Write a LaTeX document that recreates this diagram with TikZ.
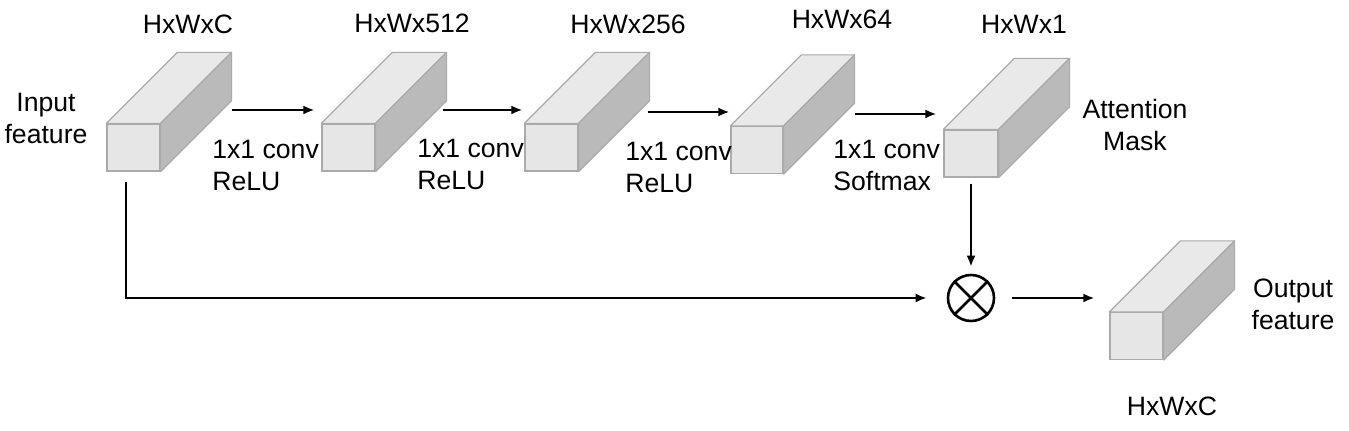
\documentclass[tikz,border=0pt]{standalone}
\usepackage{fontspec}
\setmainfont{Liberation Sans}
\usetikzlibrary{calc,arrows.meta}

\definecolor{frontgray}{RGB}{230,230,230}
\definecolor{topgray}{RGB}{233,233,233}
\definecolor{sidegray}{RGB}{186,186,186}
\definecolor{edgegray}{RGB}{170,170,170}

% top and side faces of a feature block, drawn from its front face
\newcommand{\boxdepth}[1]{%
  \filldraw[draw=edgegray, fill=topgray, line width=0.6pt, line join=round]
    (#1.north west) -- ++(71,71) -- ($(#1.north east)+(71,71)$) -- (#1.north east) -- cycle;
  \filldraw[draw=edgegray, fill=sidegray, line width=0.6pt, line join=round]
    (#1.north east) -- ++(71,71) -- ($(#1.south east)+(71,71)$) -- (#1.south east) -- cycle;
}

\begin{document}
\begin{tikzpicture}[x=0.5pt, y=0.5pt,
    every node/.style={font=\fontsize{13.3}{16}\selectfont},
    front/.style={rectangle, draw=edgegray, fill=frontgray, line width=0.6pt,
      inner sep=0pt, minimum width=26.5pt, minimum height=23.5pt},
    oplabel/.style={anchor=north west, align=left, inner sep=0pt},
    flow/.style={line width=1.2pt, -{Latex[length=5.5pt,width=4.5pt]}}]
  \useasboundingbox (0,0) rectangle (1349,431);

  % feature blocks
  \node[front] (b1) at (133.5,283.5) {};
  \node[front] (b2) at (348.5,283.5) {};
  \node[front] (b3) at (551.5,283.5) {};
  \node[front, minimum width=26pt] (b4) at (757,281) {};
  \node[front, minimum width=27pt] (b5) at (971,277.5) {};
  \node[front] (out) at (1136.5,95) {};
  \boxdepth{b1}
  \boxdepth{b2}
  \boxdepth{b3}
  \boxdepth{b4}
  \boxdepth{b5}
  \boxdepth{out}

  % sizes
  \node (s1) at (188,407) {HxWxC};
  \node (s2) at (412,408) {HxWx512};
  \node (s3) at (628,407) {HxWx256};
  \node (s4) at (842,412) {HxWx64};
  \node (s5) at (1024,407) {HxWx1};
  \node (s6) at (1172,25) {HxWxC};

  \node[align=center] (in) at (46,313) {Input\\feature};
  \node[align=center] (att) at (1135,306) {Attention\\Mask};
  \node[align=center] (outl) at (1293,127) {Output\\feature};

  % operations
  \node[oplabel] (op1) at (212,291) {1x1 conv\\ReLU};
  \node[oplabel] (op2) at (417,292) {1x1 conv\\ReLU};
  \node[oplabel] (op3) at (625,289) {1x1 conv\\ReLU};
  \node[oplabel] (op4) at (833,291) {1x1 conv\\Softmax};

  \node[circle, draw, line width=1.3pt, minimum size=23pt, inner sep=0pt] (mul) at (971,133) {};
  \draw[line width=1.3pt] (mul.north west) -- (mul.south east) (mul.north east) -- (mul.south west);

  \draw[flow] ($(b1.east)+(71,37.5)$) -- ($(b2.west)+(-7,37.5)$);
  \draw[flow] ($(b2.east)+(67,37.5)$) -- ($(b3.west)+(-2,37.5)$);
  \draw[flow] ($(b3.east)+(69,35.5)$) -- ($(b4.west)+(-1,38)$);
  \draw[flow] ($(b4.east)+(71,36)$) -- ($(b5.west)+(-7,39.5)$);
  \draw[flow] ($(b1.south)+(-7.5,-10)$) |- ($(mul.west)+(-20,0)$);
  \draw[flow] ($(b5.south)+(0,-6)$) -- ($(mul.north)+(0,7)$);
  \draw[flow] ($(mul.east)+(17,0)$) -- ($(out.west)+(-15,38)$);
\end{tikzpicture}
\end{document}
